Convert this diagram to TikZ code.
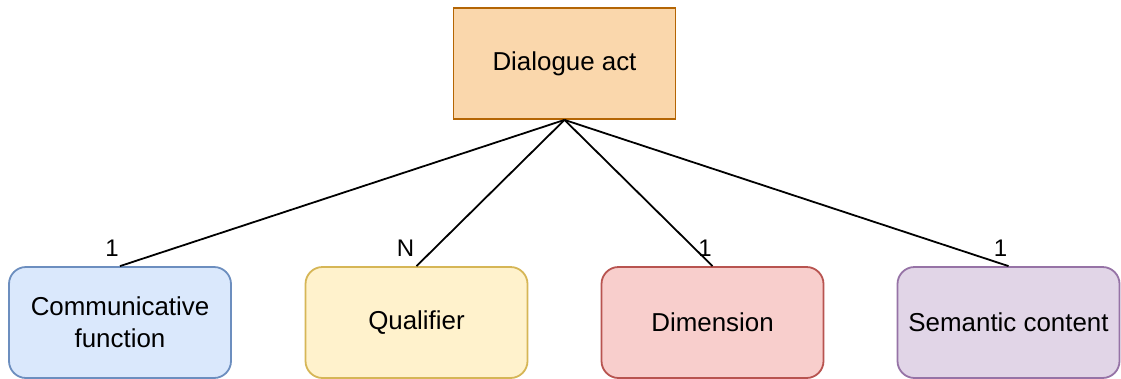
\documentclass[tikz,border=0pt]{standalone}
\usepackage{fontspec}
\setmainfont{Liberation Sans}
\definecolor{orangeF}{HTML}{FAD7AC}\definecolor{orangeD}{HTML}{B46504}
\definecolor{blueF}{HTML}{DAE8FC}\definecolor{blueD}{HTML}{6C8EBF}
\definecolor{yellowF}{HTML}{FFF2CC}\definecolor{yellowD}{HTML}{D6B656}
\definecolor{redF}{HTML}{F8CECC}\definecolor{redD}{HTML}{B85450}
\definecolor{purpleF}{HTML}{E1D5E7}\definecolor{purpleD}{HTML}{9673A6}
\begin{document}
\begin{tikzpicture}[x=1pt,y=-1pt,
  entity/.style={draw, line width=1.8pt, minimum width=222pt, minimum height=111pt,
    inner sep=0pt, align=center, font=\fontsize{25.9}{32}\selectfont},
  part/.style={entity, rounded corners=17pt},
  link/.style={line width=1.8pt, black},
  mult/.style={inner sep=0pt, font=\fontsize{24}{28}\selectfont}]
\useasboundingbox[fill=white] (0,0) rectangle (1121,378);
\node[entity, fill=orangeF, draw=orangeD] (da) at (564.5,63.5) {Dialogue act};
\node[part, fill=blueF, draw=blueD] (cf) at (120,322.5) {Communicative\\function};
\node[part, fill=yellowF, draw=yellowD] (q) at (416.5,322.5) {Qualifier};
\node[part, fill=redF, draw=redD] (dim) at (712.5,322.5) {Dimension};
\node[part, fill=purpleF, draw=purpleD] (sc) at (1008.5,322.5) {Semantic content};
\draw[link] (da.south) -- (cf.north);
\draw[link] (da.south) -- (q.north);
\draw[link] (da.south) -- (dim.north);
\draw[link] (da.south) -- (sc.north);
\node[mult] (m1) at (112,248.5) {1};
\node[mult] (m2) at (405.5,248) {N};
\node[mult] (m3) at (705,248.5) {1};
\node[mult] (m4) at (1000.5,248.5) {1};
\end{tikzpicture}
\end{document}
